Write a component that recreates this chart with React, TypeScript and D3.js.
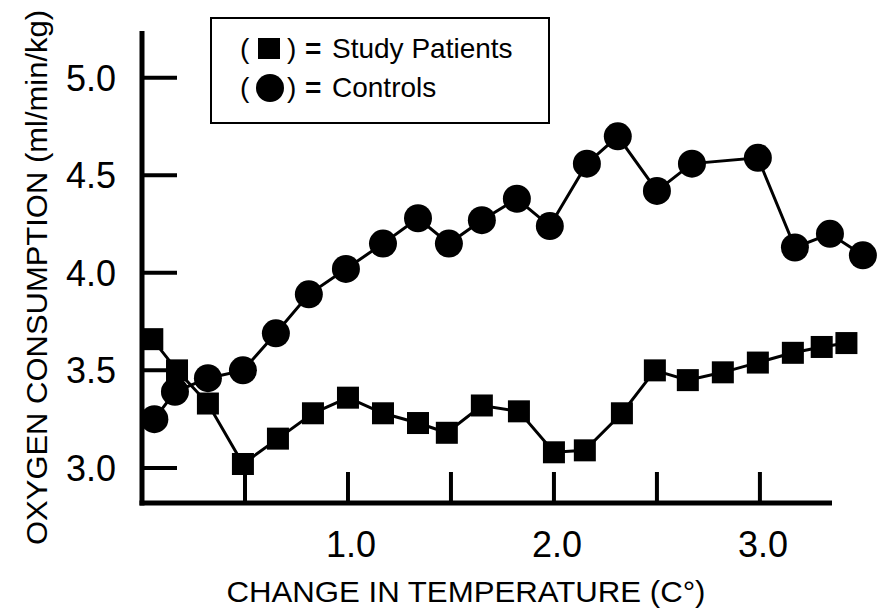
import * as React from 'react';
import * as d3 from 'd3';

const dimensions = {
  width: 883,
  height: 608,
};

// temperature change (C°) and oxygen consumption
const patientTemps = [
  0.05, 0.17, 0.32, 0.49, 0.66, 0.83, 1.0, 1.17, 1.34, 1.48, 1.65, 1.83, 2.0,
  2.15, 2.33, 2.49, 2.65, 2.82, 2.99, 3.16, 3.3, 3.42,
];
const patientValues = [
  3.66, 3.5, 3.33, 3.02, 3.15, 3.28, 3.36, 3.28, 3.23, 3.18, 3.32, 3.29, 3.08,
  3.09, 3.28, 3.5, 3.45, 3.49, 3.54, 3.59, 3.62, 3.64,
];

const controlTemps = [
  0.06, 0.16, 0.32, 0.49, 0.65, 0.81, 0.99, 1.17, 1.34, 1.49, 1.65, 1.82, 1.98,
  2.16, 2.31, 2.5, 2.67, 2.99, 3.17, 3.34, 3.5,
];
const controlValues = [
  3.25, 3.39, 3.46, 3.5, 3.69, 3.89, 4.02, 4.15, 4.28, 4.15, 4.27, 4.38, 4.24,
  4.56, 4.7, 4.42, 4.56, 4.59, 4.13, 4.2, 4.09,
];

const xTicks = [0.5, 1.0, 1.5, 2.0, 2.5, 3.0];
const xTickLabels = [1.0, 2.0, 3.0];
const yTicks = [3.0, 3.5, 4.0, 4.5, 5.0];

const font = '"Liberation Sans", Arial, Helvetica, sans-serif';

type Pt = [number, number];

const App: React.FC = () => {
  const x = d3.scaleLinear([0, 3.35], [142, 832]);
  const y = d3.scaleLinear([2.82, 5.24], [503, 31]);
  const fmt = d3.format('.1f');

  const patients: Pt[] = patientTemps.map((t, i) => [t, patientValues[i]]);
  const controls: Pt[] = controlTemps.map((t, i) => [t, controlValues[i]]);

  const line = d3
    .line<Pt>()
    .x((d) => x(d[0]))
    .y((d) => y(d[1]));

  const [x0, x1] = x.range();
  const [yBase, yTop] = y.range();

  return (
    <svg
      width={dimensions.width}
      height={dimensions.height}
      viewBox={`0 0 ${dimensions.width} ${dimensions.height}`}
      style={{ position: 'absolute', left: 0, top: 0, background: '#fff' }}
    >
      {/* axes */}
      <g stroke="#000">
        <line x1={x0} x2={x0} y1={yTop} y2={yBase + 2.5} strokeWidth={5} />
        <line x1={x0 - 2.5} x2={x1} y1={yBase} y2={yBase} strokeWidth={5} />
        {yTicks.map((t) => (
          <line key={`yt${t}`} x1={x0} x2={x0 + 35} y1={y(t)} y2={y(t)} strokeWidth={4} />
        ))}
        {xTicks.map((t) => (
          <line key={`xt${t}`} x1={x(t)} x2={x(t)} y1={yBase} y2={yBase - 31} strokeWidth={4} />
        ))}
      </g>
      <g fontFamily={font} fontSize={36}>
        {yTicks.map((t) => (
          <text key={`yl${t}`} x={x0 - 26} y={y(t)} dy="0.36em" textAnchor="end">
            {fmt(t)}
          </text>
        ))}
        {xTickLabels.map((t) => (
          <text key={`xl${t}`} x={x(t) + 3} y={557} textAnchor="middle">
            {fmt(t)}
          </text>
        ))}
      </g>

      {/* axis titles */}
      <text
        x={466}
        y={602}
        textAnchor="middle"
        fontFamily={font}
        fontSize={30}
        textLength={479}
        lengthAdjust="spacingAndGlyphs"
      >
        CHANGE IN TEMPERATURE (C°)
      </text>
      <text
        transform="translate(47, 545) rotate(-90)"
        fontFamily={font}
        fontSize={30}
        textLength={535}
        lengthAdjust="spacingAndGlyphs"
      >
        OXYGEN CONSUMPTION (ml/min/kg)
      </text>

      {/* series */}
      <path d={line(controls) ?? ''} fill="none" stroke="#000" strokeWidth={3} />
      <path d={line(patients) ?? ''} fill="none" stroke="#000" strokeWidth={3} />
      {controls.map((d, i) => (
        <circle key={`c${i}`} cx={x(d[0])} cy={y(d[1])} r={14} fill="#000" />
      ))}
      {patients.map((d, i) => (
        <rect
          key={`p${i}`}
          x={x(d[0]) - 11}
          y={y(d[1]) - 11}
          width={22}
          height={22}
          fill="#000"
        />
      ))}

      {/* legend */}
      <g fontFamily={font} fontSize={28}>
        <rect x={211} y={18} width={338} height={105} fill="#fff" stroke="#000" strokeWidth={2} />
        <text x={240} y={58}>(</text>
        <rect x={258} y={38} width={22} height={21} fill="#000" />
        <text x={287} y={58}>)</text>
        <text x={305} y={58} fontWeight="bold">=</text>
        <text x={332} y={58}>Study Patients</text>
        <text x={240} y={97}>(</text>
        <circle cx={270} cy={88} r={14} fill="#000" />
        <text x={287} y={97}>)</text>
        <text x={305} y={97} fontWeight="bold">=</text>
        <text x={332} y={97}>Controls</text>
      </g>
    </svg>
  );
};

export default App;
